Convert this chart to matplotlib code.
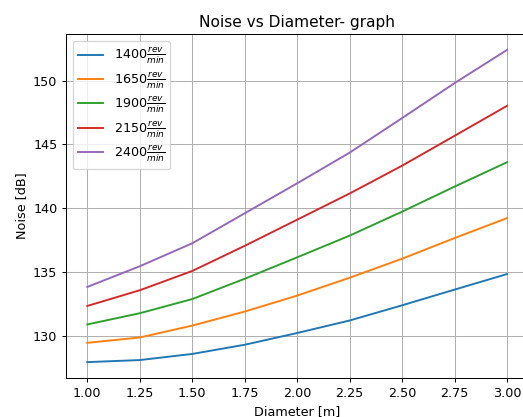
import numpy as np
import matplotlib.pyplot as plt

# diameter [m]
diameter = [1.0, 1.25, 1.5, 1.75, 2.0, 2.25, 2.5, 2.75, 3.0]

# noise [dB] per rotational speed
rpm = [1400, 1650, 1900, 2150, 2400]
noise_1400 = [127.94, 128.10, 128.58, 129.30, 130.22, 131.20, 132.39, 133.62, 134.84]
noise_1650 = [129.45, 129.87, 130.80, 131.90, 133.15, 134.55, 136.04, 137.66, 139.22]
noise_1900 = [130.89, 131.77, 132.88, 134.47, 136.15, 137.85, 139.73, 141.69, 143.60]
noise_2150 = [132.34, 133.57, 135.08, 137.05, 139.10, 141.15, 143.33, 145.67, 148.02]
noise_2400 = [133.83, 135.45, 137.25, 139.60, 141.95, 144.35, 147.06, 149.80, 152.40]

series = [noise_1400, noise_1650, noise_1900, noise_2150, noise_2400]

# reference looks like a slightly downscaled render, so use a lower dpi
DPI = 92
fig = plt.figure(figsize=(523 / DPI, 417 / DPI), dpi=DPI)
# the original figure is cropped a bit on the right
ax = fig.add_axes([0.1268, 0.0942, 0.8828, 0.8235])

for n, vals in zip(rpm, series):
    ax.plot(diameter, vals, label=r'%d$\frac{rev}{min}$' % n)

ax.set_title('Noise vs Diameter- graph')
ax.set_xlabel('Diameter [m]')
ax.set_ylabel('Noise [dB]')
ax.set_xticks(np.arange(1.0, 3.01, 0.25))
ax.grid(True)
ax.legend(loc='upper left', labelspacing=0.3)

fig.savefig('out.png', dpi=DPI)
